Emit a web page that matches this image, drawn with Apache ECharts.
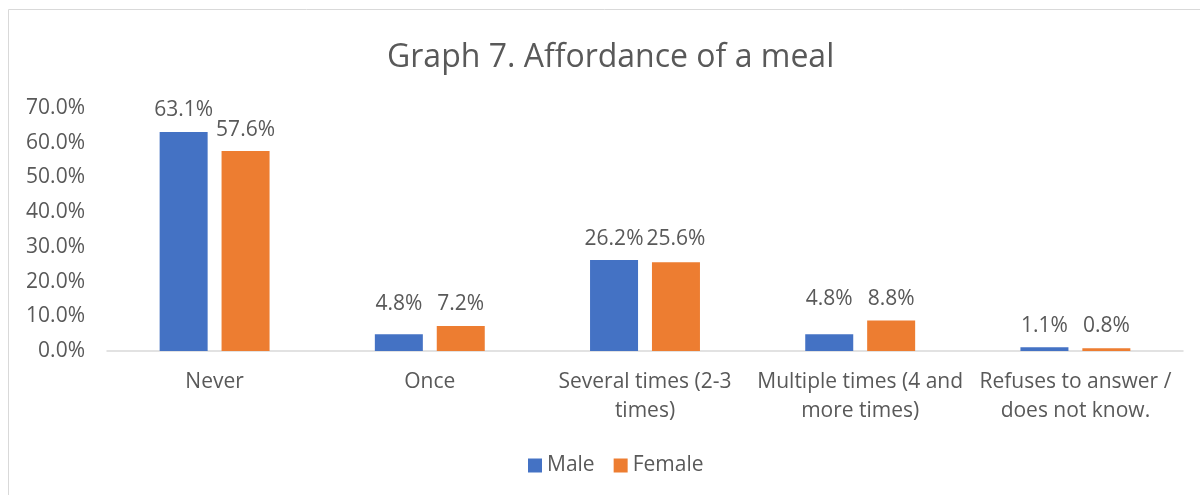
<!DOCTYPE html>
<html>
<head>
<meta charset="utf-8">
<script src="https://cdn.jsdelivr.net/npm/echarts@6/dist/echarts.min.js"></script>
<style>
  html, body { margin: 0; padding: 0; background: #fff; }
  #chart { width: 1200px; height: 495px; }
</style>
</head>
<body>
<div id="chart"></div>
<script>
const categories = [
  "Never",
  "Once",
  "Several times (2-3\ntimes)",
  "Multiple times (4 and\nmore times)",
  "Refuses to answer /\ndoes not know."
];
const maleValues = [63.1, 4.8, 26.2, 4.8, 1.1];
const femaleValues = [57.6, 7.2, 25.6, 8.8, 0.8];
const seriesNames = ["Male", "Female"];
const titleText = "Graph 7. Affordance of a meal";

const textColor = "#595959";
const fontFamily = "'Open Sans', 'Noto Sans', sans-serif";

const chart = echarts.init(document.getElementById("chart"));

// labels of close pairs sit on one line, like the original
const alignLabel = (own, other) => (params) => {
  const i = params.dataIndex;
  const diff = other[i] - own[i];
  if (diff <= 0 || diff >= 5) return {};
  const pxPerUnit = params.rect.height / own[i];
  return { dy: -diff * pxPerUnit };
};

const labelStyle = {
  show: true,
  position: "top",
  distance: 11,
  color: textColor,
  fontSize: 21,
  fontFamily: fontFamily,
  formatter: (p) => p.value.toFixed(1) + "%"
};

chart.setOption({
  animation: false,
  title: {
    text: titleText,
    left: 382,
    top: 37,
    textStyle: {
      color: textColor,
      fontSize: 32,
      fontWeight: "normal",
      fontFamily: fontFamily
    }
  },
  graphic: [
    {
      type: "rect",
      shape: { x: 8.5, y: 9.5, width: 1300, height: 600 },
      style: { fill: "none", stroke: "#d9d9d9", lineWidth: 1 },
      silent: true
    }
  ],
  legend: {
    data: seriesNames,
    bottom: 14,
    left: 523,
    itemWidth: 14,
    itemHeight: 14,
    itemGap: 19,
    icon: "rect",
    textStyle: { color: textColor, fontSize: 21, fontFamily: fontFamily }
  },
  grid: {
    left: 107,
    right: 17,
    top: 108,
    bottom: 144
  },
  xAxis: {
    type: "category",
    data: categories,
    axisLine: { lineStyle: { color: "#d9d9d9", width: 1.5 } },
    axisTick: { show: false },
    axisLabel: {
      color: textColor,
      fontSize: 21,
      fontFamily: fontFamily,
      margin: 17,
      lineHeight: 29,
      interval: 0
    }
  },
  yAxis: {
    type: "value",
    min: 0,
    max: 70,
    interval: 10,
    splitLine: { show: false },
    axisLine: { show: false },
    axisLabel: {
      color: textColor,
      fontSize: 21,
      fontFamily: fontFamily,
      margin: 22,
      formatter: (v) => v.toFixed(1) + "%"
    }
  },
  series: [
    {
      name: seriesNames[0],
      type: "bar",
      data: maleValues,
      barWidth: 48,
      barGap: "29%",
      itemStyle: { color: "#4472C4" },
      label: labelStyle,
      labelLayout: alignLabel(maleValues, femaleValues)
    },
    {
      name: seriesNames[1],
      type: "bar",
      data: femaleValues,
      barWidth: 48,
      itemStyle: { color: "#ED7D31" },
      label: labelStyle,
      labelLayout: alignLabel(femaleValues, maleValues)
    }
  ]
});
</script>
</body>
</html>
